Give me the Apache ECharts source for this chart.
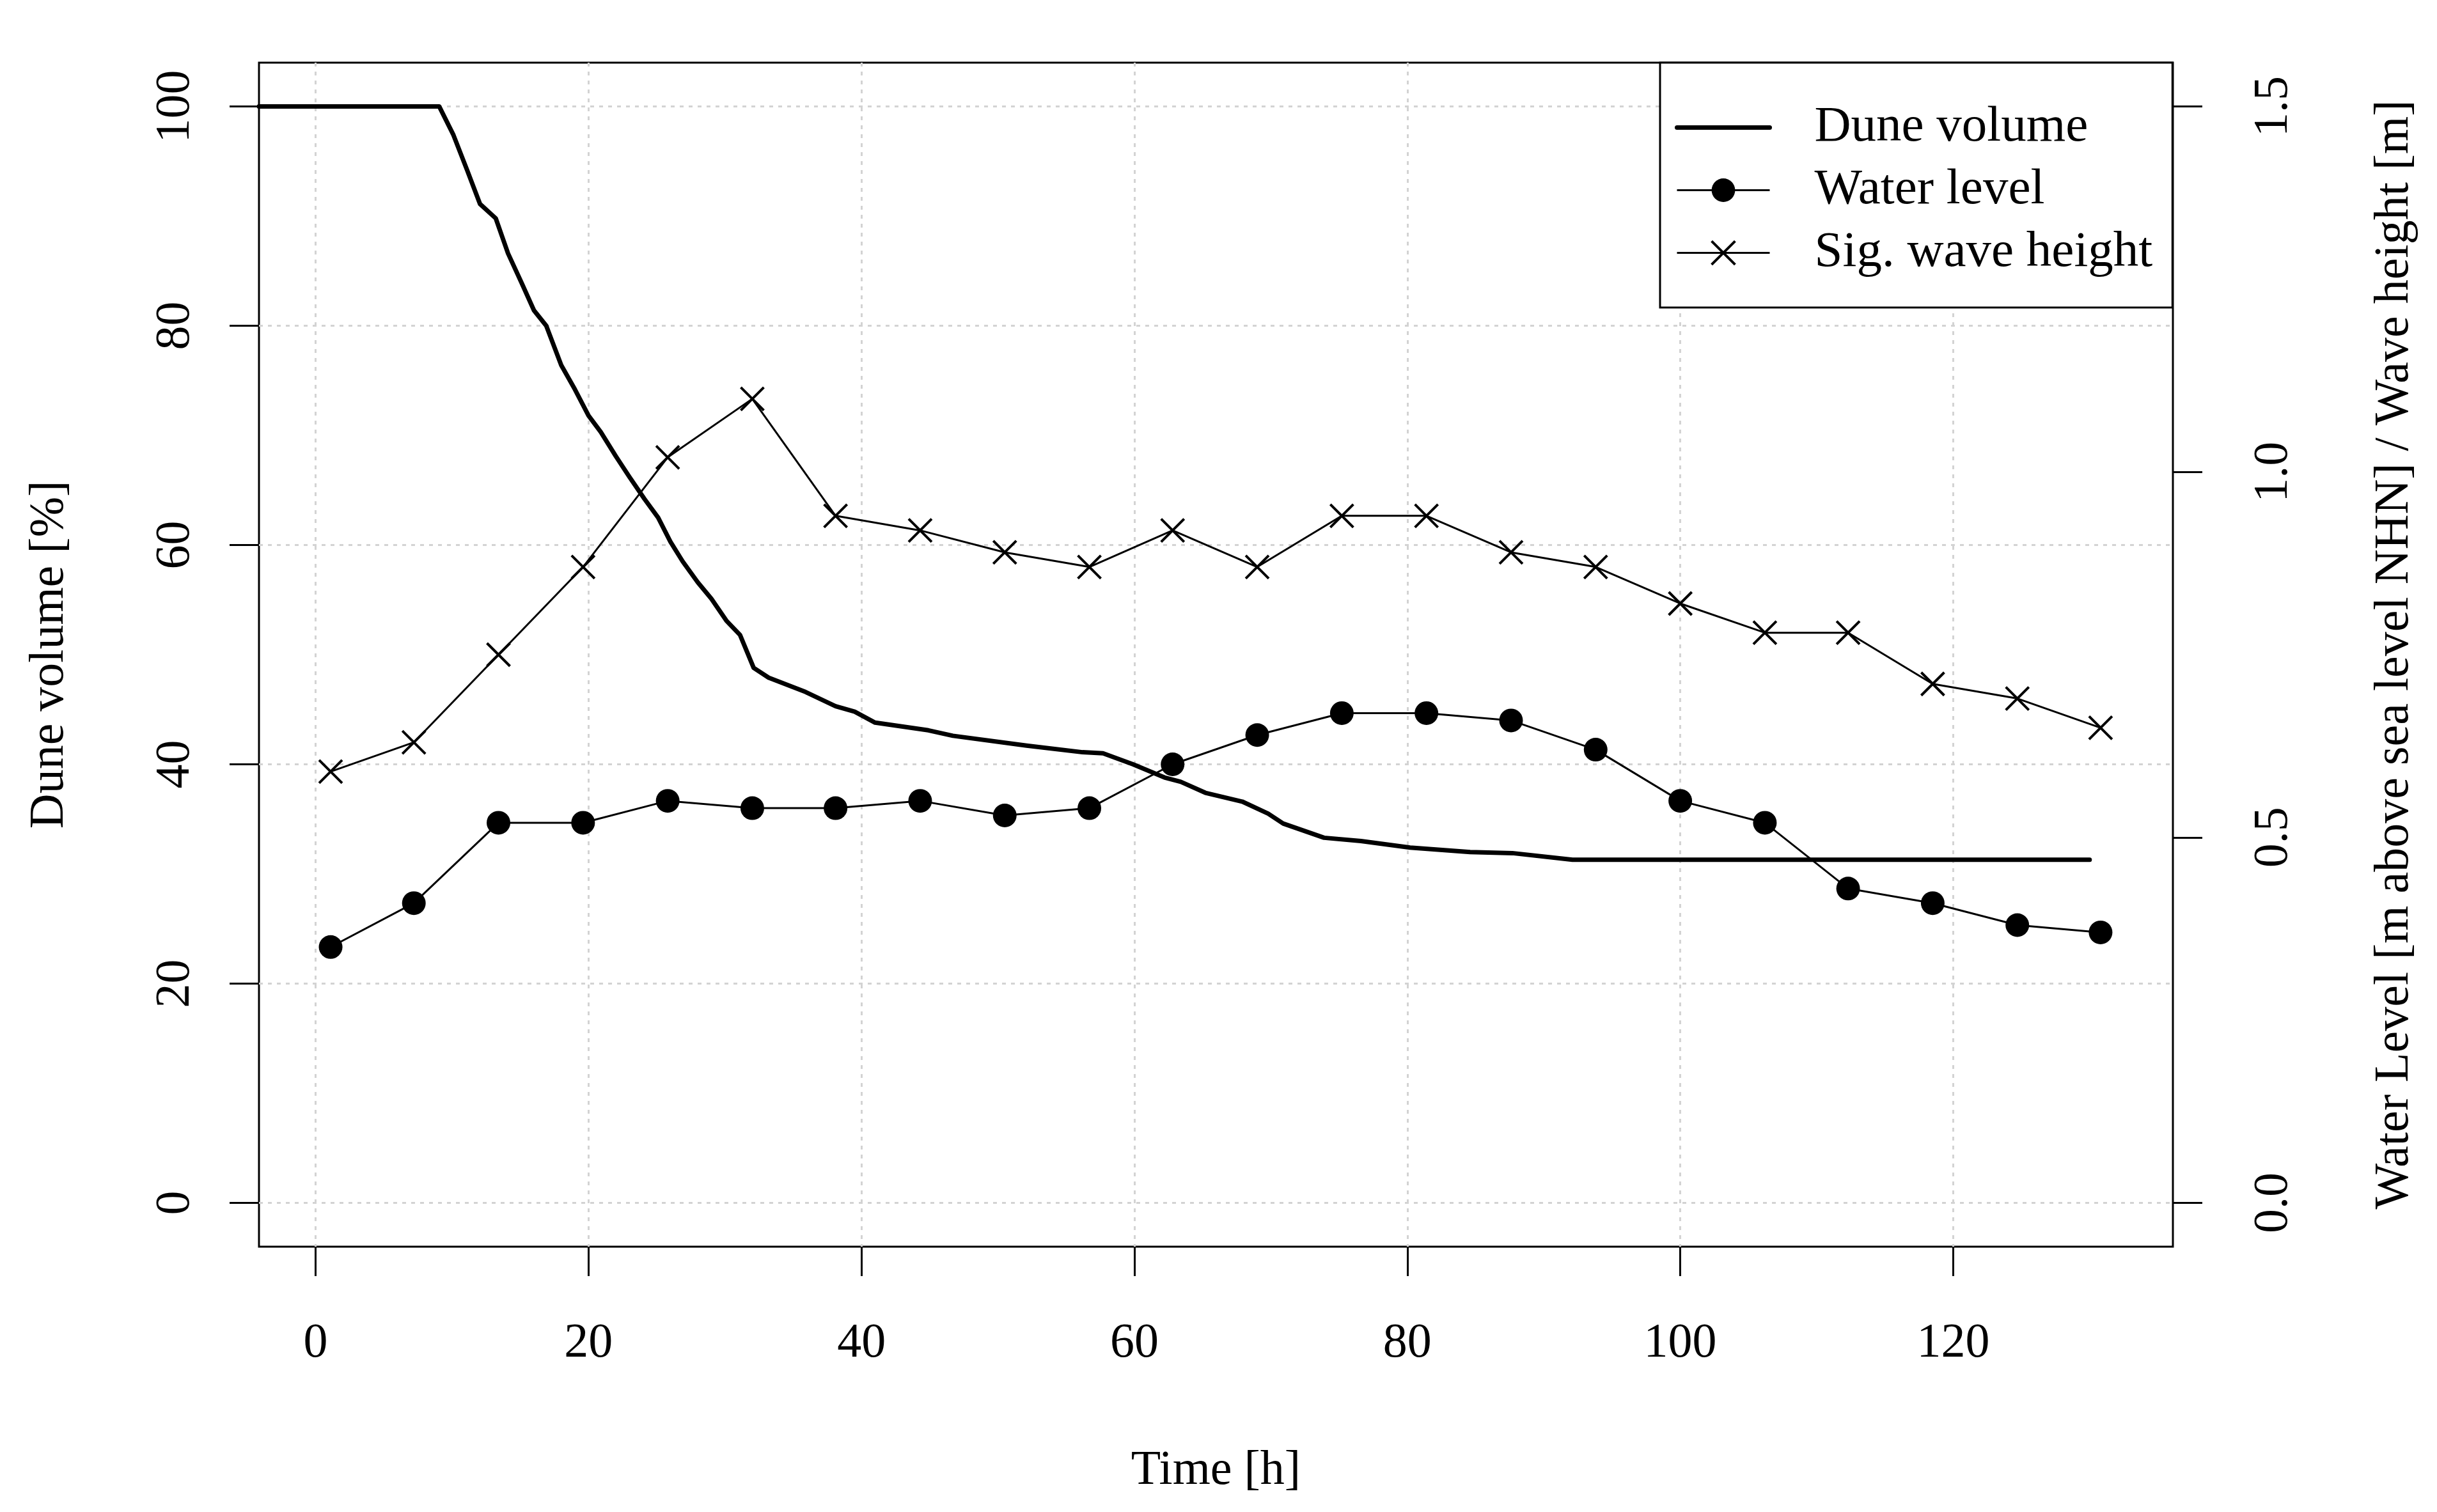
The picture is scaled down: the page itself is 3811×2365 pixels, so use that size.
<!DOCTYPE html>
<html><head><meta charset="utf-8">
<script src="https://cdn.jsdelivr.net/npm/echarts@6/dist/echarts.min.js"></script>
<style>html,body{margin:0;padding:0;background:#fff}#c{width:3811px;height:2365px}</style>
</head><body><div id="c"></div>
<script>
const timeSteps = [1.1, 7.2, 13.4, 19.6, 25.8, 32.0, 38.1, 44.3, 50.5, 56.7, 62.8, 69.0, 75.2, 81.4, 87.6, 93.8, 100.0, 106.2, 112.3, 118.5, 124.7, 130.8];
const waterLevel = [0.35, 0.41, 0.52, 0.52, 0.55, 0.54, 0.54, 0.55, 0.53, 0.54, 0.60, 0.64, 0.67, 0.67, 0.66, 0.62, 0.55, 0.52, 0.43, 0.41, 0.38, 0.37];
const waveHeight = [0.59, 0.63, 0.75, 0.87, 1.02, 1.10, 0.94, 0.92, 0.89, 0.87, 0.92, 0.87, 0.94, 0.94, 0.89, 0.87, 0.82, 0.78, 0.78, 0.71, 0.69, 0.65];
const duneTime = [-4.15, 9.06, 10.1, 11.1, 12.05, 13.2, 14.1, 15.1, 16.0, 16.9, 18.0, 19.0, 20.0, 20.9, 22.0, 23.0, 24.1, 25.1, 26.0, 26.9, 28.0, 29.0, 30.1, 31.1, 32.1, 33.2, 35.9, 38.1, 39.5, 41.0, 44.9, 46.7, 52.1, 56.2, 57.7, 59.9, 62.2, 63.4, 65.2, 67.9, 69.8, 70.9, 73.9, 76.6, 80.2, 84.6, 87.7, 92.1, 130.0];
const duneVolume = [100, 100, 97.4, 94.2, 91.1, 89.8, 86.6, 83.9, 81.4, 80.0, 76.4, 74.2, 71.8, 70.3, 68.1, 66.2, 64.2, 62.5, 60.3, 58.5, 56.6, 55.1, 53.1, 51.8, 48.8, 47.9, 46.6, 45.3, 44.8, 43.8, 43.1, 42.6, 41.7, 41.1, 41.0, 40.0, 38.8, 38.4, 37.4, 36.6, 35.5, 34.6, 33.3, 33.0, 32.4, 32.0, 31.9, 31.3, 31.3];
const xTicks = [0, 20, 40, 60, 80, 100, 120];
const leftTicks = [0, 20, 40, 60, 80, 100];
const rightTicks = [0, 0.5, 1.0, 1.5];
const seriesNames = ['Dune volume', 'Water level', 'Sig. wave height'];
const xTitle = 'Time [h]';
const leftTitle = 'Dune volume [%]';
const rightTitle = 'Water Level [m above sea level NHN] / Wave height [m]';

const FONT = 'Liberation Serif';
const FS = 76;
const gridLine = {show: true, lineStyle: {color: '#d3d3d3', width: 3, type: [6, 8]}};
const tick = (vals) => ({show: true, inside: false, length: 46, customValues: vals, lineStyle: {color: '#000', width: 3}});
const noLine = {show: false, onZero: false};

const chart = echarts.init(document.getElementById('c'), null, {renderer: 'canvas'});
chart.setOption({
  animation: false,
  backgroundColor: '#fff',
  grid: {left: 405, right: 413, top: 98, bottom: 415, show: true, borderColor: '#000', borderWidth: 3, backgroundColor: 'transparent'},
  legend: {
    orient: 'vertical', left: 2596, top: 98,
    padding: [62, 31, 46, 23],
    itemWidth: 145, itemHeight: 46, itemGap: 19,
    backgroundColor: '#fff', borderColor: '#000', borderWidth: 3, borderRadius: 0,
    textStyle: {fontFamily: FONT, fontSize: 79, color: '#000', lineHeight: 79, padding: [0, 0, 0, 65]},
    itemStyle: {borderColor: '#000', borderWidth: 4},
    selectedMode: false,
    data: [
      {name: seriesNames[0], itemStyle: {opacity: 0}, lineStyle: {width: 7, color: '#000'}},
      {name: seriesNames[1], lineStyle: {width: 3, color: '#000'}, itemStyle: {color: '#000', borderWidth: 0}},
      {name: seriesNames[2], lineStyle: {width: 3, color: '#000'}, itemStyle: {color: '#000', borderColor: '#000', borderWidth: 4}}
    ]
  },
  xAxis: {
    type: 'value', min: -4.15, max: 136.1,
    name: xTitle, nameLocation: 'middle', nameGap: 313,
    nameTextStyle: {fontFamily: FONT, fontSize: FS, color: '#000'},
    axisLine: noLine,
    axisTick: tick(xTicks),
    axisLabel: {show: true, customValues: xTicks, margin: 114, fontFamily: FONT, fontSize: FS, color: '#000'},
    splitLine: gridLine
  },
  yAxis: [{
    type: 'value', min: -4, max: 104, position: 'left',
    name: leftTitle, nameLocation: 'middle', nameGap: 289, nameRotate: 90,
    nameTextStyle: {fontFamily: FONT, fontSize: FS, color: '#000'},
    axisLine: noLine,
    axisTick: tick(leftTicks),
    axisLabel: {show: true, customValues: leftTicks, rotate: 90, margin: 92, fontFamily: FONT, fontSize: FS, color: '#000'},
    splitLine: gridLine
  }, {
    type: 'value', min: -0.06, max: 1.56, position: 'right',
    name: rightTitle, nameLocation: 'middle', nameGap: 309, nameRotate: 90,
    nameTextStyle: {fontFamily: FONT, fontSize: FS, color: '#000'},
    axisLine: noLine,
    axisTick: tick(rightTicks),
    axisLabel: {show: true, customValues: rightTicks, rotate: 90, margin: 120, fontFamily: FONT, fontSize: FS, color: '#000',
      formatter: (v) => Number(v).toFixed(1)},
    splitLine: {show: false}
  }],
  series: [{
    name: seriesNames[0], type: 'line', yAxisIndex: 0, z: 3,
    data: duneTime.map((t, i) => [t, duneVolume[i]]),
    symbol: 'none', showSymbol: false,
    lineStyle: {color: '#000', width: 7, cap: 'round', join: 'round'},
    itemStyle: {color: '#000'},
    emphasis: {disabled: true}
  }, {
    name: seriesNames[1], type: 'line', yAxisIndex: 1, z: 4,
    data: timeSteps.map((t, i) => [t, waterLevel[i]]),
    symbol: 'circle', symbolSize: 37,
    lineStyle: {color: '#000', width: 3},
    itemStyle: {color: '#000', borderWidth: 0},
    emphasis: {disabled: true}
  }, {
    name: seriesNames[2], type: 'line', yAxisIndex: 1, z: 4,
    data: timeSteps.map((t, i) => [t, waveHeight[i]]),
    symbol: 'path://M0,0L10,10M10,0L0,10', symbolSize: 36,
    lineStyle: {color: '#000', width: 3},
    itemStyle: {color: '#000', borderColor: '#000', borderWidth: 4},
    emphasis: {disabled: true}
  }]
});
</script>
</body></html>
